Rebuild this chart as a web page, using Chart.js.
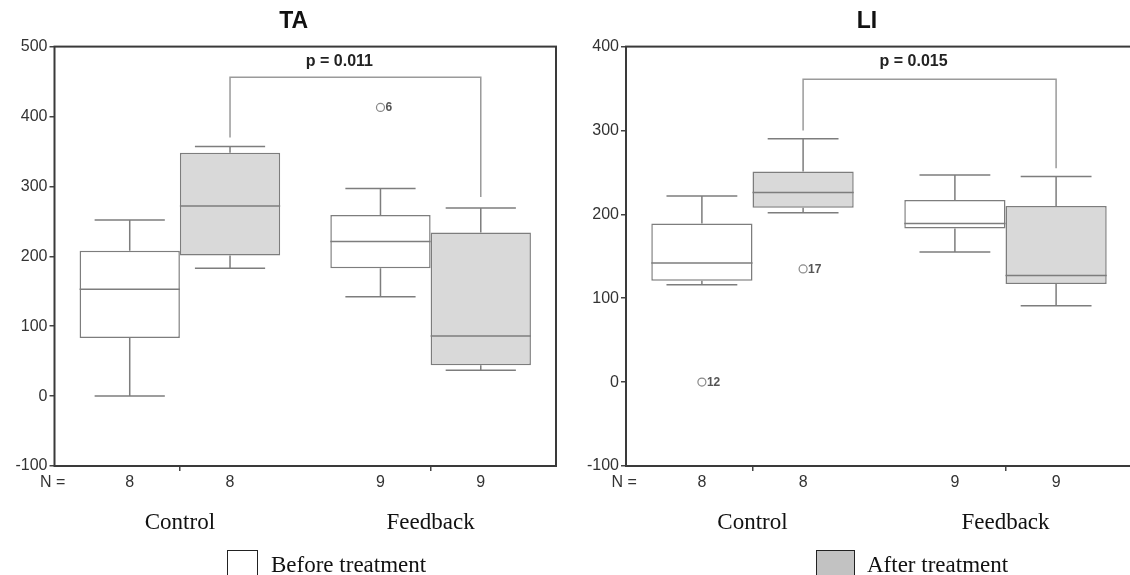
<!DOCTYPE html>
<html>
<head>
<meta charset="utf-8">
<script src="https://cdn.jsdelivr.net/npm/chart.js@4.4.1/dist/chart.umd.min.js"></script>
<style>
  body { margin: 0; background: #fff; }
  #page { position: relative; width: 1130px; height: 575px; overflow: hidden; background: #fff; }
  .wrap { position: absolute; top: 0; height: 575px; }
  .key { position: absolute; top: 550px; height: 40px; border: 1.5px solid #222; box-sizing: border-box; }
  .keyText { position: absolute; top: 553px; font: 23px/23px 'Liberation Serif', 'Times New Roman', serif; color: #111; white-space: nowrap; }
</style>
</head>
<body>
<div id="page">
  <div class="wrap" style="left:0; width:581px;"><canvas id="taChart"></canvas></div>
  <div class="wrap" style="left:578px; width:578px;"><canvas id="liChart"></canvas></div>
  <div class="key" style="left:227px; width:31px; background:#fff;"></div>
  <div class="keyText" style="left:271px;">Before treatment</div>
  <div class="key" style="left:816px; width:39px; background:#c2c2c2;"></div>
  <div class="keyText" style="left:867px;">After treatment</div>
</div>
<script>
const categories = ['Control', 'Feedback'];
const seriesNames = ['Before treatment', 'After treatment'];

// [min, Q1, median, Q3, max] for each category
const taBefore = [[0, 83, 153, 208, 252], [142, 183, 221, 259, 297]];
const taAfter = [[183, 201, 272, 348, 357], [37, 44, 86, 234, 269]];
const liBefore = [[116, 121, 142, 189, 222], [155, 183, 189, 217, 247]];
const liAfter = [[202, 208, 226, 251, 290], [91, 117, 127, 210, 245]];

// [category index, series index, value, case number]
const taOutliers = [[1, 0, 413, '6']];
const liOutliers = [[0, 0, 0, '12'], [0, 1, 135, '17']];

const nBefore = [8, 9];
const nAfter = [8, 9];

// significance bracket between the two "after" boxes: [top, left end, right end]
const taBracket = [456, 370, 285];
const liBracket = [361, 300, 255];
const taP = 'p = 0.011';
const liP = 'p = 0.015';

const taRange = [-100, 500];
const liRange = [-100, 400];

Chart.defaults.font.family = "'Liberation Sans', Arial, sans-serif";
Chart.defaults.color = '#333';

const LINE = '#7d7d7d';

const boxPlot = {
  id: 'boxPlot',
  afterDatasetsDraw(chart, args, opts) {
    const { ctx, chartArea } = chart;
    const y = chart.scales.y;
    const py = v => y.getPixelForValue(v);

    ctx.save();
    ctx.strokeStyle = LINE;
    ctx.lineWidth = 1.5;
    opts.stats.forEach((stats, di) => {
      chart.getDatasetMeta(di).data.forEach((bar, i) => {
        const [lo, q1, med, q3, hi] = stats[i];
        const half = bar.width / 2;
        const cap = bar.width * 0.35;
        ctx.beginPath();
        ctx.moveTo(bar.x - half, py(med));
        ctx.lineTo(bar.x + half, py(med));
        ctx.moveTo(bar.x, py(q3));
        ctx.lineTo(bar.x, py(hi));
        ctx.moveTo(bar.x - cap, py(hi));
        ctx.lineTo(bar.x + cap, py(hi));
        ctx.moveTo(bar.x, py(q1));
        ctx.lineTo(bar.x, py(lo));
        ctx.moveTo(bar.x - cap, py(lo));
        ctx.lineTo(bar.x + cap, py(lo));
        ctx.stroke();
      });
    });

    // outliers
    opts.outliers.forEach(([ci, di, v, label]) => {
      const bar = chart.getDatasetMeta(di).data[ci];
      ctx.beginPath();
      ctx.fillStyle = '#fff';
      ctx.strokeStyle = '#888';
      ctx.lineWidth = 1.2;
      ctx.arc(bar.x, py(v), 4, 0, Math.PI * 2);
      ctx.fill();
      ctx.stroke();
      ctx.fillStyle = '#555';
      ctx.font = "bold 12px 'Liberation Sans', Arial, sans-serif";
      ctx.textAlign = 'left';
      ctx.textBaseline = 'middle';
      ctx.fillText(label, bar.x + 5, py(v) + 0.5);
    });

    // bracket
    const a = chart.getDatasetMeta(1).data[0];
    const b = chart.getDatasetMeta(1).data[1];
    const [top, leftEnd, rightEnd] = opts.bracket;
    ctx.beginPath();
    ctx.strokeStyle = '#9a9a9a';
    ctx.lineWidth = 1.5;
    ctx.moveTo(a.x, py(leftEnd));
    ctx.lineTo(a.x, py(top));
    ctx.lineTo(b.x, py(top));
    ctx.lineTo(b.x, py(rightEnd));
    ctx.stroke();
    ctx.fillStyle = '#222';
    ctx.font = "bold 16px 'Liberation Sans', Arial, sans-serif";
    ctx.textAlign = 'center';
    ctx.textBaseline = 'alphabetic';
    ctx.fillText(opts.p, (a.x + b.x) / 2 - 16, chartArea.top + 19.5);

    // frame
    ctx.strokeStyle = '#3a3a3a';
    ctx.lineWidth = 2;
    ctx.strokeRect(chartArea.left, chartArea.top, chartArea.right - chartArea.left, chartArea.bottom - chartArea.top);

    // N row
    ctx.fillStyle = '#333';
    ctx.font = "16px 'Liberation Sans', Arial, sans-serif";
    ctx.textAlign = 'left';
    ctx.fillText('N =', chartArea.left - 14.5, chartArea.bottom + 20.5);
    ctx.textAlign = 'center';
    opts.counts.forEach((counts, di) => {
      chart.getDatasetMeta(di).data.forEach((bar, i) => {
        ctx.fillText(String(counts[i]), bar.x, chartArea.bottom + 20.5);
      });
    });
    ctx.restore();
  }
};

function makeChart(canvasId, { title, before, after, outliers, bracket, p, range, padLeft, spacer }) {
  const ctx = document.getElementById(canvasId).getContext('2d');
  return new Chart(ctx, {
    type: 'bar',
    data: {
      labels: categories,
      datasets: [
        {
          label: seriesNames[0],
          data: before.map(s => [s[1], s[3]]),
          backgroundColor: '#ffffff',
          borderColor: LINE,
          borderWidth: 1.5,
          borderSkipped: false
        },
        {
          label: seriesNames[1],
          data: after.map(s => [s[1], s[3]]),
          backgroundColor: '#d9d9d9',
          borderColor: LINE,
          borderWidth: 1.5,
          borderSkipped: false
        }
      ]
    },
    options: {
      responsive: true,
      maintainAspectRatio: false,
      animation: false,
      layout: { padding: { left: padLeft, right: 0, top: 0, bottom: 0 } },
      datasets: { bar: { categoryPercentage: 0.8, barPercentage: 1 } },
      plugins: {
        legend: { display: false },
        tooltip: { enabled: false },
        title: {
          display: true,
          text: title,
          color: '#111',
          font: { size: 23, weight: 'bold' },
          padding: { top: 7.5, bottom: 11.5 }
        },
        boxPlot: { stats: [before, after], outliers, bracket, p, counts: [nBefore, nAfter] }
      },
      scales: {
        x: {
          type: 'category',
          offset: true,
          afterFit: axis => { axis.height = 109; },
          border: { display: false },
          grid: { offset: false, drawOnChartArea: false, drawTicks: true, tickLength: 5, tickColor: '#444', lineWidth: 1.5 },
          ticks: {
            color: '#111',
            padding: 38,
            font: { family: "'Liberation Serif', 'Times New Roman', serif", size: 23 }
          }
        },
        y: {
          min: range[0],
          max: range[1],
          afterFit: axis => { axis.width = 48; },
          border: { display: false },
          grid: { drawOnChartArea: false, drawTicks: true, tickLength: 5, tickColor: '#444', lineWidth: 1.5 },
          ticks: { stepSize: 100, padding: 2, color: '#333', font: { size: 16 } }
        },
        // empty right-hand axis, only there to shift the centred title to the left
        spacer: {
          type: 'linear',
          position: 'right',
          afterFit: axis => { axis.width = spacer; },
          border: { display: false },
          grid: { display: false },
          ticks: { display: false }
        }
      }
    },
    plugins: [boxPlot]
  });
}

makeChart('taChart', {
  title: 'TA', before: taBefore, after: taAfter, outliers: taOutliers,
  bracket: taBracket, p: taP, range: taRange, padLeft: 6.5, spacer: 25
});
makeChart('liChart', {
  title: 'LI', before: liBefore, after: liAfter, outliers: liOutliers,
  bracket: liBracket, p: liP, range: liRange, padLeft: 0, spacer: 24
});
</script>
</body>
</html>
